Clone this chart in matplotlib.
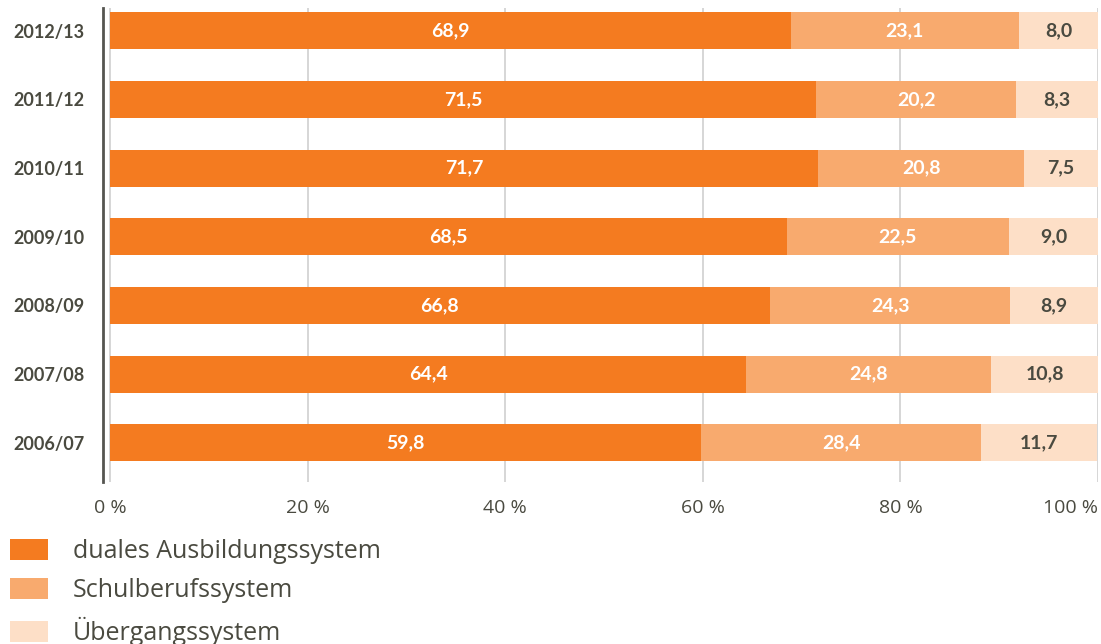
import numpy as np
import matplotlib
matplotlib.use('Agg')
from matplotlib import pyplot as plt

years = ['2006/07', '2007/08', '2008/09', '2009/10', '2010/11', '2011/12', '2012/13']
dual = [59.8, 64.4, 66.8, 68.5, 71.7, 71.5, 68.9]
schul = [28.4, 24.8, 24.3, 22.5, 20.8, 20.2, 23.1]
uebergang = [11.7, 10.8, 8.9, 9.0, 7.5, 8.3, 8.0]
series_names = ['duales Ausbildungssystem', 'Schulberufssystem', 'Übergangssystem']

colors = ['#F47B20', '#F8AA6E', '#FDDFC7']
label_colors = ['white', 'white', '#4a4a40']
text_col = '#4a4a40'

plt.rcParams['font.family'] = ['Lato', 'DejaVu Sans']

fig = plt.figure(figsize=(11.01, 6.44), dpi=100)
ax = fig.add_axes([103 / 1101, 1 - 482 / 644, (1098 - 103) / 1101, (482 - 8) / 644])

y = np.arange(len(years))
left = np.zeros(len(years))
bars = []
for vals, col, lc in zip([dual, schul, uebergang], colors, label_colors):
    vals = np.array(vals)
    b = ax.barh(y, vals, left=left, height=0.54, color=col, zorder=3)
    bars.append(b)
    for yi, l, v in zip(y, left, vals):
        ax.text(l + v / 2, yi, f'{v:.1f}'.replace('.', ','), ha='center', va='center',
                color=lc, fontsize=14, fontweight='bold', zorder=4)
    left = left + vals

ax.set_xlim(-0.7, 100)
ax.set_ylim(-0.57, 6.33)
ticks = [0, 20, 40, 60, 80, 100]
ax.set_xticks(ticks)
ax.set_xticklabels([f'{t} %' for t in ticks], fontsize=14, color=text_col,
                   family=['Open Sans', 'DejaVu Sans'])
ax.get_xticklabels()[-1].set_horizontalalignment('right')
ax.set_yticks(y)
ax.set_yticklabels(years, fontsize=13, fontweight='bold', color=text_col)
ax.tick_params(axis='both', length=0)
ax.tick_params(axis='x', pad=12)
ax.tick_params(axis='y', pad=13.5)
ax.xaxis.grid(True, color='#d0d0d0', lw=1.2, zorder=0)
for s in ['top', 'right', 'bottom']:
    ax.spines[s].set_visible(False)
ax.spines['left'].set_color('#555550')
ax.spines['left'].set_linewidth(2)

fig.legend(bars, series_names, loc='upper left', bbox_to_anchor=(10 / 1101, 1 - 539 / 644),
           frameon=False, prop={'family': ['Open Sans', 'DejaVu Sans'], 'size': 18},
           handlelength=1.52, handleheight=0.88,
           handletextpad=1.0, labelspacing=0.56, borderaxespad=0, borderpad=0,
           labelcolor=text_col)

fig.savefig('out.png', dpi=100)
